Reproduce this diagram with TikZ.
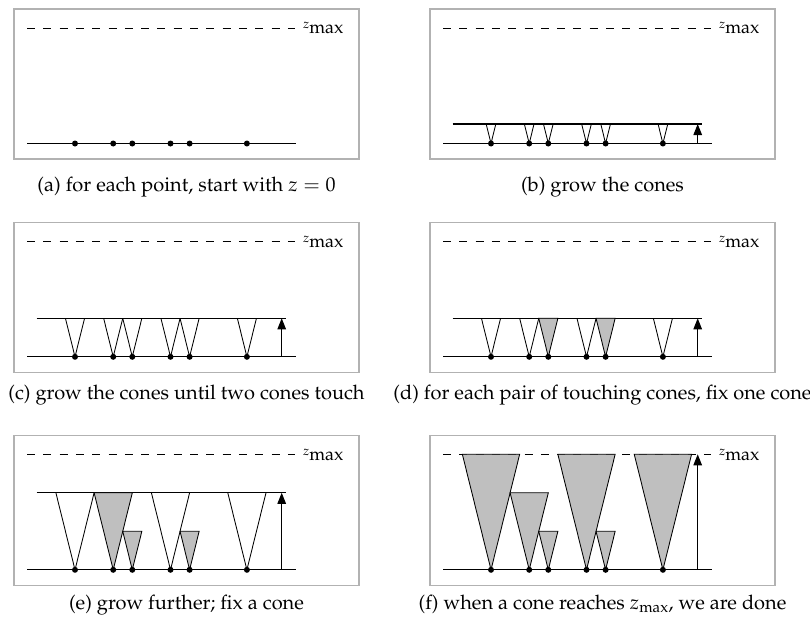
\documentclass[tikz,border=0pt]{standalone}
\usepackage[T1]{fontenc}
\usepackage{mathpazo}
\usetikzlibrary{arrows.meta}
\begin{document}
\def\U{19.1}
\def\H{38.5}
\tikzset{
  frame/.style={draw=black!30, line width=1.3pt},
  baseln/.style={line width=1.1pt},
  zline/.style={line width=0.8pt, dash pattern=on 8pt off 8.3pt},
  growln/.style={line width=1.1pt},
  cone/.style={line width=0.85pt},
  fixedcone/.style={draw=black, fill=black!25, line width=0.85pt},
  pt/.style={circle, fill=black, inner sep=0pt, minimum size=6pt},
  growarrow/.style={-{Triangle[length=11pt,width=8.5pt]}, line width=1.1pt},
  capt/.style={anchor=base, inner sep=0pt, font=\fontsize{20}{24}\selectfont},
  zlabel/.style={anchor=base west, inner sep=0pt, font=\fontsize{18}{20}\selectfont},
}
% panel skeleton: #1 id
\newcommand\panelframe[1]{%
  \draw[frame] (0,0) rectangle (345,150);
  \coordinate (#1zl) at (13,19);
  \coordinate (#1zr) at (281,19);
  \node[zlabel] (#1zm) at (289,25) {\raisebox{5pt}{\fontsize{13}{13}\selectfont$z$}max};
  \foreach \k [count=\i] in {0,2,3,5,6,9} \coordinate (#1c\i) at ({61+\k*\U},134.5);
  \coordinate (#1bl) at (13,134.5);
  \coordinate (#1br) at (282,134.5);
}
\newcommand\panelbase[1]{%
  \draw[baseln] (#1bl) -- (#1br);
  \foreach \i in {1,...,6} \node[pt] (#1p\i) at (#1c\i) {};
}
\newcommand\growth[2]{% id, height
  \coordinate (#1gl) at (22.5,{134.5-#2});
  \coordinate (#1gr) at (272,{134.5-#2});
  \draw[growln] (#1gl) -- (#1gr);
}
\newcommand\growarr[2]{% id, height
  \coordinate (#1ab) at (267.7,134.5);
  \coordinate (#1at) at (267.7,{134.5-#2});
  \draw[growarrow] (#1ab) -- (#1at);
}
\newcommand\opencone[2]{%
  \pgfmathsetmacro\hw{#2*\U/(2*\H)}%
  \draw[cone] (#1) ++(-\hw,-#2) -- (#1) -- ++(\hw,-#2);
}
\newcommand\fixcone[2]{%
  \pgfmathsetmacro\hw{#2*\U/(2*\H)}%
  \pgfmathsetmacro\fw{2*\hw}%
  \filldraw[fixedcone] (#1) -- ++(-\hw,-#2) -- ++(\fw,0) -- cycle;
}
\begin{tikzpicture}[x=1pt,y=-1pt]
\useasboundingbox (0,0) rectangle (810,626);
% (a)
\begin{scope}[shift={(14,9)}]
  \panelframe{a}
  \draw[zline] (azl) -- (azr);
  \panelbase{a}
  \node[capt] (acap) at (172.5,182.7) {(a) for each point, start with $z = 0$};
\end{scope}
% (b)
\begin{scope}[shift={(430,9)}]
  \panelframe{b}
  \draw[zline] (bzl) -- (bzr);
  \growth{b}{19.5}
  \foreach \i in {1,...,6} {\opencone{bc\i}{19.5}}
  \growarr{b}{19.5}
  \panelbase{b}
  \node[capt] (bcap) at (172.5,182.7) {(b) grow the cones};
\end{scope}
% (c)
\begin{scope}[shift={(14,222.3)}]
  \panelframe{c}
  \draw[zline] (czl) -- (czr);
  \growth{c}{\H}
  \foreach \i in {1,...,6} {\opencone{cc\i}{\H}}
  \growarr{c}{\H}
  \panelbase{c}
  \node[capt] (ccap) at (172.5,177) {(c) grow the cones until two cones touch};
\end{scope}
% (d)
\begin{scope}[shift={(430,222.3)}]
  \panelframe{d}
  \draw[zline] (dzl) -- (dzr);
  \growth{d}{\H}
  \foreach \i in {1,2,4,6} {\opencone{dc\i}{\H}}
  \fixcone{dc3}{\H}
  \fixcone{dc5}{\H}
  \growarr{d}{\H}
  \panelbase{d}
  \node[capt] (dcap) at (172.5,177) {(d) for each pair of touching cones, fix one cone};
\end{scope}
% (e)
\begin{scope}[shift={(14,435.3)}]
  \panelframe{e}
  \draw[zline] (ezl) -- (ezr);
  \growth{e}{2*\H}
  \foreach \i in {1,4,6} {\opencone{ec\i}{2*\H}}
  \fixcone{ec2}{2*\H}
  \fixcone{ec3}{\H}
  \fixcone{ec5}{\H}
  \growarr{e}{2*\H}
  \panelbase{e}
  \node[capt] (ecap) at (172.5,174) {(e) grow further; fix a cone};
\end{scope}
% (f)
\begin{scope}[shift={(430,435.3)}]
  \panelframe{f}
  \draw[zline] (fzl) -- (fzr);
  \fixcone{fc1}{3*\H}
  \fixcone{fc2}{2*\H}
  \fixcone{fc3}{\H}
  \fixcone{fc4}{3*\H}
  \fixcone{fc5}{\H}
  \fixcone{fc6}{3*\H}
  \growarr{f}{3*\H}
  \panelbase{f}
  \node[capt] (fcap) at (172.5,174) {(f) when a cone reaches $z_{\mathrm{max}}$, we are done};
\end{scope}
\end{tikzpicture}
\end{document}
